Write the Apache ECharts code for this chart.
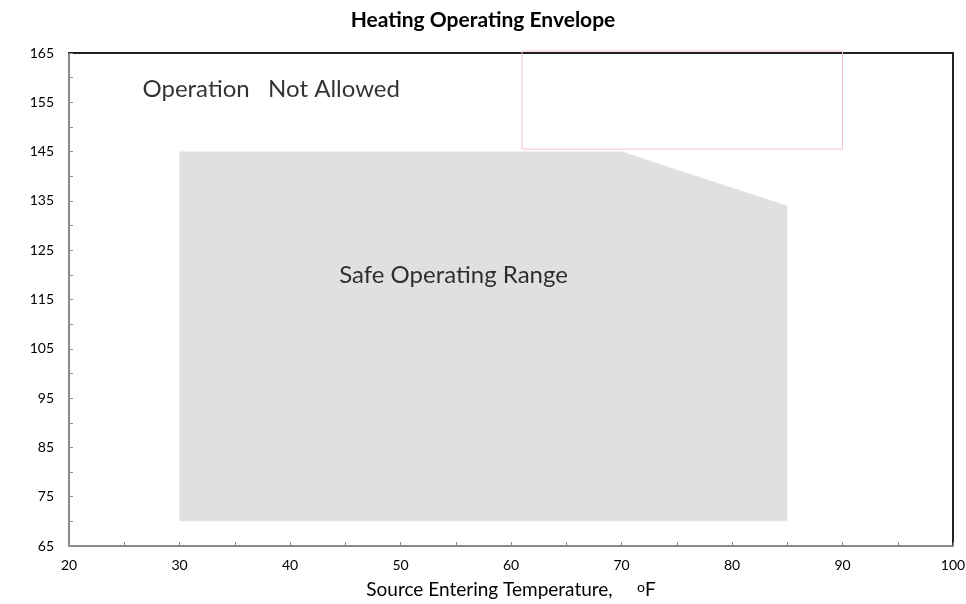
<!DOCTYPE html>
<html>
<head>
<meta charset="utf-8">
<script src="https://cdn.jsdelivr.net/npm/echarts@6/dist/echarts.min.js"></script>
<style>
  html, body { margin: 0; padding: 0; background: #fff; }
  #chart { width: 966px; height: 604px; }
</style>
</head>
<body>
<div id="chart"></div>
<script>
// safe envelope outline (source temp F, leaving water temp F)
var envelopeX = [30, 30, 70, 85, 85];
var envelopeY = [70, 145, 145, 134, 70];
// leftover pink box near the top
var boxX = [61, 90];
var boxY = [145.5, 165];
// text notes placed in data space
var notes = [
  { text: 'Operation   Not Allowed', x: 38.3, y: 157.7 },
  { text: 'Safe Operating Range', x: 54.8, y: 120 }
];

var FONT = 'Lato, "Open Sans", sans-serif';
var chart = echarts.init(document.getElementById('chart'));

var envPoints = envelopeX.map(function (x, i) { return [x, envelopeY[i]]; });

var option = {
  animation: false,
  title: {
    text: 'Heating Operating Envelope',
    left: 'center',
    top: 5,
    textStyle: { fontFamily: FONT, fontSize: 21, fontWeight: 'bold', color: '#000' }
  },
  grid: { left: 69, right: 13, top: 53, bottom: 58, outerBoundsMode: 'none', containLabel: false },
  xAxis: [{
    type: 'value',
    min: 20, max: 100, interval: 5,
    name: 'Source Entering Temperature,     {sup|o}F',
    nameLocation: 'middle',
    nameGap: 34,
    nameTextStyle: {
      fontFamily: FONT, fontSize: 19, color: '#000',
      rich: { sup: { fontFamily: FONT, fontSize: 14, color: '#000', verticalAlign: 'top', padding: [0, 0, 6, 0] } }
    },
    axisLine: { lineStyle: { color: '#8a8a8a', width: 2 } },
    axisTick: { inside: true, length: 4, lineStyle: { color: '#8a8a8a' } },
    axisLabel: {
      fontFamily: FONT, fontSize: 14, color: '#000', margin: 12,
      formatter: function (v) { return v % 10 === 0 ? v : ''; }
    },
    splitLine: { show: false }
  }, {
    type: 'value', position: 'top',
    min: 20, max: 100,
    axisLine: { show: true, lineStyle: { color: '#222', width: 2 } },
    axisTick: { show: false }, axisLabel: { show: false }, splitLine: { show: false }
  }],
  yAxis: [{
    type: 'value',
    min: 65, max: 165, interval: 5,
    axisLine: { show: true, lineStyle: { color: '#8a8a8a', width: 2 } },
    axisTick: { show: true, inside: true, length: 4, lineStyle: { color: '#8a8a8a' } },
    axisLabel: {
      fontFamily: FONT, fontSize: 14, color: '#000', margin: 15,
      formatter: function (v) { return (v - 65) % 10 === 0 ? v : ''; }
    },
    splitLine: { show: false }
  }, {
    type: 'value', position: 'right',
    min: 65, max: 165,
    axisLine: { show: true, lineStyle: { color: '#222', width: 2 } },
    axisTick: { show: false }, axisLabel: { show: false }, splitLine: { show: false }
  }],
  series: [
    {
      type: 'custom',
      name: 'envelope',
      z: 1,
      data: [0],
      renderItem: function (params, api) {
        var pts = envPoints.map(function (p) { return api.coord(p); });
        return {
          type: 'polygon',
          shape: { points: pts },
          style: { fill: '#dfe0e0' }
        };
      }
    },
    {
      type: 'custom',
      name: 'box',
      z: 2,
      data: [0],
      renderItem: function (params, api) {
        var a = api.coord([boxX[0], boxY[1]]);
        var b = api.coord([boxX[1], boxY[0]]);
        return {
          type: 'rect',
          shape: { x: a[0], y: a[1] - 2, width: b[0] - a[0], height: b[1] - a[1] + 2 },
          style: { fill: 'none', stroke: '#f3c4c6', lineWidth: 1 }
        };
      }
    },
    {
      type: 'scatter',
      z: 3,
      symbolSize: 0,
      data: notes.map(function (n) { return { value: [n.x, n.y], name: n.text }; }),
      label: {
        show: true,
        position: 'inside',
        formatter: '{b}',
        fontFamily: FONT, fontSize: 24, color: '#000'
      }
    }
  ]
};
chart.setOption(option);
</script>
</body>
</html>
